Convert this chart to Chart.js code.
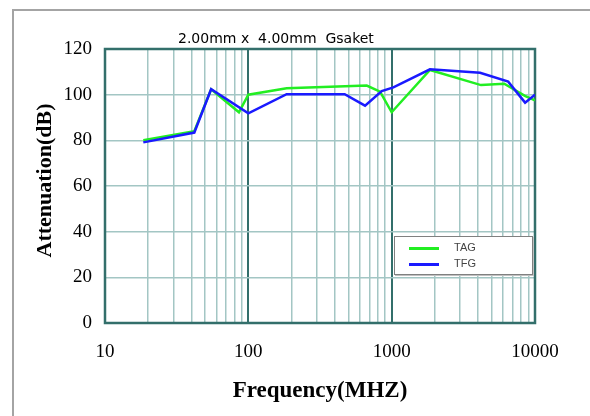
<!DOCTYPE html>
<html>
<head>
<meta charset="utf-8">
<script src="https://cdn.jsdelivr.net/npm/chart.js@4.4.1/dist/chart.umd.min.js"></script>
<style>
  body { margin: 0; background: #fff; }
  #wrap { position: relative; width: 590px; height: 416px; overflow: hidden; }
  #frame { position: absolute; left: 12px; top: 9px; right: -4px; bottom: -4px;
           border-left: 2px solid #a4a4a4; border-top: 2px solid #a4a4a4; }
  #title { position: absolute; left: 178px; top: 30px; font: 14px "DejaVu Sans", sans-serif;
           line-height: 16px; white-space: pre; color: #000; }
  #legend { position: absolute; left: 394px; top: 236px; width: 137px; height: 37px;
            background: #fff; border: 1px solid #808080; box-shadow: 1px 1px 0 #c0c0c0;
            font: 11px "Liberation Sans", Arial, sans-serif; color: #444; }
  .item { position: absolute; left: 14px; height: 12px; }
  .item span.line { position: absolute; left: 0; top: 5px; width: 30px; height: 3px; }
  .item span.txt { position: absolute; left: 45px; top: -1px; }
</style>
</head>
<body>
<div id="wrap">
  <canvas id="chart" width="590" height="416"></canvas>
  <div id="frame"></div>
  <div id="title">2.00mm x  4.00mm  Gsaket</div>
  <div id="legend">
    <div class="item" style="top:5px"><span class="line" style="background:#22ee22"></span><span class="txt">TAG</span></div>
    <div class="item" style="top:21px"><span class="line" style="background:#1a1aff"></span><span class="txt">TFG</span></div>
  </div>
</div>
<script>
const tagFreq = [18.5, 42, 55, 86, 100, 185, 670, 830, 1000, 1850, 4200, 6100, 8500, 10000];
const tagAtt  = [80, 84, 102.4, 92.3, 100, 102.8, 104, 101.3, 92.3, 110.8, 104.2, 104.8, 99.5, 97.5];
const tfgFreq = [18.5, 42, 55, 100, 185, 470, 652, 853, 1028, 1850, 4140, 6500, 8530, 10000];
const tfgAtt  = [79.1, 83.4, 102.4, 91.8, 100.2, 100.2, 95.2, 101.6, 103.2, 111.1, 109.6, 105.7, 96.5, 100];

const xLabels = [10, 100, 1000, 10000];
const yTicks = [0, 20, 40, 60, 80, 100, 120];
const xTicks = [];
for (let d = 10; d < 10000; d *= 10) {
    for (let m = 1; m <= 9; m++) xTicks.push(d * m);
}
xTicks.push(10000);

const toPoints = (xs, ys) => xs.map((x, i) => ({ x: x, y: ys[i] }));

const darkTeal = '#336f6b';
const lightTeal = '#a3c6c4';
const serif = '"Liberation Serif", "Times New Roman", serif';

const frameBox = {
    id: 'frameBox',
    beforeDatasetsDraw(chart) {
        const a = chart.chartArea;
        const c = chart.ctx;
        c.save();
        c.strokeStyle = darkTeal;
        c.lineWidth = 2.5;
        c.strokeRect(a.left, a.top, a.right - a.left, a.bottom - a.top);
        c.restore();
    }
};

const ctx = document.getElementById('chart').getContext('2d');
new Chart(ctx, {
    type: 'scatter',
    data: {
        datasets: [
            { label: 'TAG', data: toPoints(tagFreq, tagAtt), borderColor: '#22ee22', order: 1 },
            { label: 'TFG', data: toPoints(tfgFreq, tfgAtt), borderColor: '#1a1aff', order: 0 }
        ]
    },
    options: {
        responsive: false,
        animation: false,
        showLine: true,
        elements: {
            line: { borderWidth: 2.5, tension: 0, fill: false },
            point: { radius: 0, hoverRadius: 0 }
        },
        layout: { padding: { top: 49, right: 55, left: 0, bottom: 0 } },
        plugins: { legend: { display: false }, title: { display: false }, tooltip: { enabled: false } },
        scales: {
            x: {
                type: 'logarithmic',
                min: 10,
                max: 10000,
                afterBuildTicks: (s) => { s.ticks = xTicks.map(v => ({ value: v })); },
                afterFit: (s) => { s.height = 93; },
                ticks: {
                    autoSkip: false,
                    maxRotation: 0,
                    padding: 18,
                    color: '#000',
                    font: { family: serif, size: 19 },
                    callback: (v) => xLabels.includes(v) ? String(v) : ''
                },
                grid: {
                    drawTicks: false,
                    color: (c) => (c.tick && (c.tick.value === 100 || c.tick.value === 1000)) ? darkTeal : lightTeal,
                    lineWidth: (c) => (c.tick && (c.tick.value === 100 || c.tick.value === 1000)) ? 2 : 1.5
                },
                border: { display: false },
                title: {
                    display: true,
                    text: 'Frequency(MHZ)',
                    color: '#000',
                    padding: { top: 0, bottom: 11 },
                    font: { family: serif, size: 23, weight: 'bold' }
                }
            },
            y: {
                min: 0,
                max: 120,
                afterBuildTicks: (s) => { s.ticks = yTicks.map(v => ({ value: v })); },
                afterFit: (s) => { s.width = 105; },
                ticks: {
                    padding: 13,
                    color: '#000',
                    font: { family: serif, size: 19 }
                },
                grid: { drawTicks: false, color: lightTeal, lineWidth: 1.5 },
                border: { display: false },
                title: {
                    display: true,
                    text: '  Attenuation(dB)',
                    color: '#000',
                    padding: { top: 32, bottom: 0 },
                    font: { family: serif, size: 22, weight: 'bold' }
                }
            }
        }
    },
    plugins: [frameBox]
});
</script>
</body>
</html>
